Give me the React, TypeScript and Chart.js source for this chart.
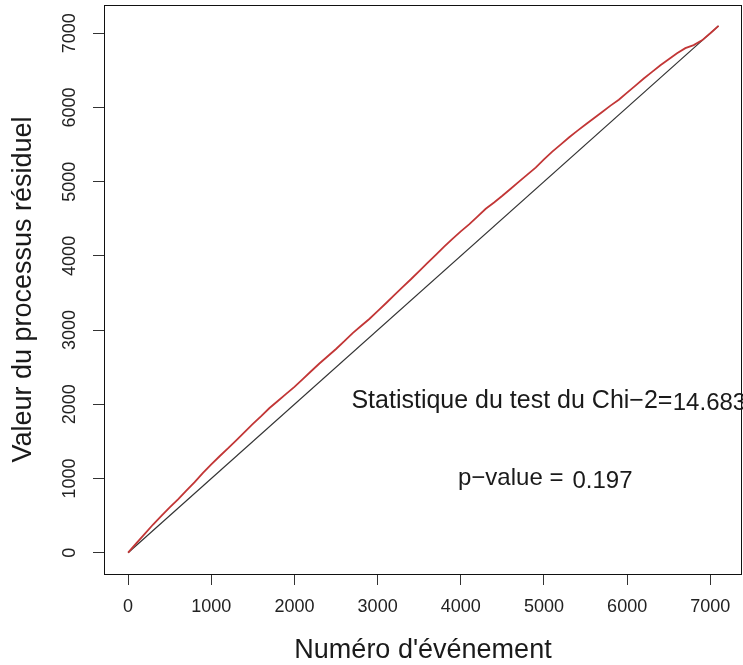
import React, { useEffect, useRef } from "react";
import { Chart, registerables } from "chart.js";

Chart.register(...registerables);

const eventNumbers = [
  0, 100, 200, 300, 400, 500, 600, 700, 800, 900,
  1000, 1100, 1200, 1300, 1400, 1500, 1600, 1700, 1800, 1900,
  2000, 2100, 2200, 2300, 2400, 2500, 2600, 2700, 2800, 2900,
  3000, 3100, 3200, 3300, 3400, 3500, 3600, 3700, 3800, 3900,
  4000, 4100, 4200, 4300, 4400, 4500, 4600, 4700, 4800, 4900,
  5000, 5100, 5200, 5300, 5400, 5500, 5600, 5700, 5800, 5900,
  6000, 6100, 6200, 6300, 6400, 6500, 6600, 6700, 6800, 6900,
  7000, 7099,
];

const residualValues = [
  0, 130, 255, 380, 495, 610, 720, 835, 950, 1075,
  1190, 1300, 1405, 1515, 1625, 1735, 1840, 1950, 2045, 2140,
  2235, 2340, 2445, 2550, 2648, 2745, 2850, 2960, 3055, 3150,
  3255, 3362, 3470, 3580, 3685, 3795, 3905, 4015, 4125, 4230,
  4330, 4425, 4530, 4635, 4720, 4810, 4905, 5000, 5095, 5190,
  5300, 5405, 5500, 5595, 5685, 5770, 5855, 5940, 6025, 6105,
  6200, 6295, 6390, 6480, 6570, 6650, 6730, 6800, 6840, 6905,
  7000, 7099,
];

const diagonalX = [0, 7099];
const diagonalY = [0, 7099];

const xTicks = [0, 1000, 2000, 3000, 4000, 5000, 6000, 7000];
const yTicks = [0, 1000, 2000, 3000, 4000, 5000, 6000, 7000];

const xTitle = "Numéro d'événement";
const yTitle = "Valeur du processus résiduel";

const annotationTexts = ["Statistique du test du Chi\u22122=", "14.683", "p\u2212value =", "0.197"];
const annotationX = [4615, 6990, 4600, 5704];
const annotationY = [2044, 2017, 1005, 966];
const annotationSizes = [25, 24, 24, 24];

const FONT = "'Liberation Sans', Arial, sans-serif";

export default function App() {
  const ref = useRef<HTMLCanvasElement | null>(null);

  useEffect(() => {
    const canvas = ref.current;
    if (!canvas) return;

    const boxAndText = {
      id: "boxAndText",
      afterDraw(chart: any) {
        const { ctx, chartArea, scales } = chart;
        ctx.save();
        ctx.strokeStyle = "#111";
        ctx.lineWidth = 1;
        ctx.strokeRect(
          Math.round(chartArea.left) + 0.5,
          Math.round(chartArea.top) + 0.5,
          Math.round(chartArea.right - chartArea.left) - 1,
          Math.round(chartArea.bottom - chartArea.top)
        );
        ctx.fillStyle = "#1a1a1a";
        ctx.textAlign = "center";
        ctx.textBaseline = "middle";
        for (let i = 0; i < annotationTexts.length; i++) {
          ctx.font = `${annotationSizes[i]}px ${FONT}`;
          const px = scales.x.getPixelForValue(annotationX[i]);
          const py = scales.y.getPixelForValue(annotationY[i]);
          ctx.fillText(annotationTexts[i], px, py);
        }
        ctx.restore();
      },
    };

    const chart = new Chart(canvas, {
      type: "scatter",
      data: {
        datasets: [
          {
            label: "diagonal",
            data: diagonalX.map((x, i) => ({ x, y: diagonalY[i] })),
            showLine: true,
            borderColor: "#333333",
            borderWidth: 1.2,
            pointRadius: 0,
            order: 2,
          },
          {
            label: "residual",
            data: eventNumbers.map((x, i) => ({ x, y: residualValues[i] })),
            showLine: true,
            borderColor: "#c23636",
            borderWidth: 1.8,
            pointRadius: 0,
            order: 1,
          },
        ],
      },
      options: {
        responsive: false,
        animation: false,
        layout: { padding: { top: 5, right: 1, left: 0, bottom: 0 } },
        plugins: {
          legend: { display: false },
          tooltip: { enabled: false },
        },
        scales: {
          x: {
            type: "linear",
            min: -290,
            max: 7381,
            afterBuildTicks: (scale: any) => {
              scale.ticks = xTicks.map((v) => ({ value: v }));
            },
            afterFit: (scale: any) => {
              scale.height = 91;
              scale.paddingLeft = 0;
              scale.paddingRight = 0;
            },
            grid: {
              display: true,
              drawOnChartArea: false,
              drawTicks: true,
              tickLength: 11,
              color: "#333",
              lineWidth: 1,
            },
            border: { display: false },
            ticks: {
              color: "#222",
              font: { family: FONT, size: 18 },
              padding: 11,
              maxRotation: 0,
              autoSkip: false,
              callback: (v: any) => String(v),
            },
            title: {
              display: true,
              text: xTitle,
              color: "#1a1a1a",
              font: { family: FONT, size: 27, lineHeight: 1 },
              padding: { top: 0, bottom: 1 },
            },
          },
          y: {
            type: "linear",
            min: -287,
            max: 7381,
            afterBuildTicks: (scale: any) => {
              scale.ticks = yTicks.map((v) => ({ value: v }));
            },
            afterFit: (scale: any) => {
              scale.width = 104;
              scale.paddingTop = 0;
              scale.paddingBottom = 0;
            },
            grid: {
              display: true,
              drawOnChartArea: false,
              drawTicks: true,
              tickLength: 11,
              color: "#333",
              lineWidth: 1,
            },
            border: { display: false },
            ticks: {
              color: "#222",
              font: { family: FONT, size: 18 },
              padding: 3,
              minRotation: 90,
              maxRotation: 90,
              crossAlign: "center",
              autoSkip: false,
              callback: (v: any) => String(v),
            },
            title: {
              display: true,
              text: yTitle,
              color: "#1a1a1a",
              font: { family: FONT, size: 27, lineHeight: 1 },
              padding: { top: 10, bottom: 0 },
            },
          },
        },
      },
      plugins: [boxAndText],
    });

    return () => chart.destroy();
  }, []);

  return (
    <div style={{ position: "absolute", left: 0, top: 0, width: 743, height: 665, background: "#fff" }}>
      <canvas ref={ref} width={743} height={665} style={{ width: 743, height: 665, display: "block" }} />
    </div>
  );
}
